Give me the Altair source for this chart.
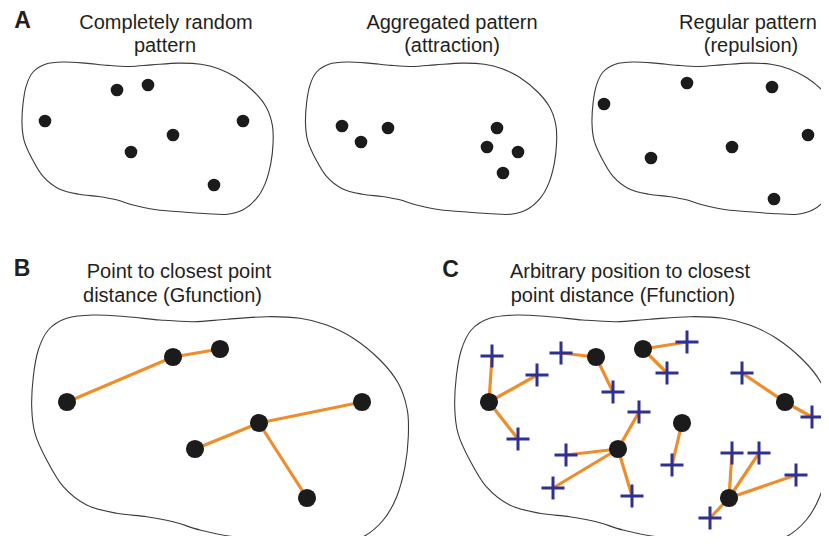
import altair as alt
import pandas as pd

# ---- outline of the irregular study region (traced on panel B, pixel space) ----
OUTLINE_X = [31.7, 33.3, 38.3, 48.3, 66.7, 93.3, 126.7, 160, 193.3, 226.7, 266.7, 300,
             326.7, 353.3, 380, 398.3, 407.3, 408.3, 405, 396.7, 383.3, 363.3, 340, 310,
             273.3, 233.3, 200, 173.3, 146.7, 116.7, 86.7, 63.3, 46.7, 35]
OUTLINE_Y = [406.7, 376.7, 350, 330, 318.3, 315, 316.7, 320, 321.7, 319.3, 316.7, 318.3,
             325, 338.3, 360, 383.3, 410, 436.7, 466.7, 496.7, 520, 536.7, 543.3, 542.7,
             540, 536.7, 530, 521.7, 516.7, 513.3, 505, 486.7, 460, 433.3]

# region placement: panel, left, top, scale
REGIONS = [("A1", 22, 62, 2 / 3), ("A2", 305.5, 62, 2 / 3), ("A3", 592, 62, 2 / 3),
           ("B", 31.7, 315, 1.0), ("C", 454.7, 315, 1.0)]

# ---- panel A points ----
A_RANDOM_X = [117, 148, 45, 243, 173, 131, 214]
A_RANDOM_Y = [90, 85, 121, 121, 135, 152, 185]
A_AGGR_X = [342, 361, 388, 497, 487, 518, 503]
A_AGGR_Y = [126, 142, 128, 128, 147, 152, 173]
A_REG_X = [604, 687, 772, 808, 732, 651, 774]
A_REG_Y = [104, 83, 87, 135, 147, 158, 199]

# ---- panel B points and nearest-neighbour links ----
B_X = [67, 173, 220, 362, 259, 195, 307]
B_Y = [402, 357, 349, 402, 423, 449, 498]
B_LINK_FROM = [0, 1, 4, 4, 4]
B_LINK_TO = [1, 2, 3, 5, 6]

# ---- panel C points, arbitrary positions and their closest point ----
C_X = [489, 596, 643, 785, 618, 682, 729]
C_Y = [402, 357, 349, 402, 449, 423, 498]
CROSS_X = [492, 537, 518, 561, 613, 687, 667, 742, 812, 639, 566, 553, 632, 672, 732, 759, 796, 710]
CROSS_Y = [356, 375, 439, 353, 392, 342, 373, 373, 417, 412, 455, 488, 496, 465, 453, 453, 475, 518]
CROSS_NEAREST = [0, 0, 0, 1, 1, 2, 2, 3, 3, 4, 4, 4, 4, 5, 6, 6, 6, 6]

# ---- texts ----
TITLES = ["Completely random", "pattern", "Aggregated pattern", "(attraction)",
          "Regular pattern", "(repulsion)", "Point to closest point", "distance (Gfunction)",
          "Arbitrary position to closest", "point distance (Ffunction)"]
TITLE_X = [166, 165, 452, 452, 748, 751, 179, 172.5, 630, 623]
TITLE_Y = [29, 52, 29, 52, 29, 52, 278, 302, 278, 302]
LETTERS = ["A", "B", "C"]
LETTER_X = [22.5, 22, 450.5]
LETTER_Y = [28, 276, 277]

# ---------------- build tables ----------------
ox, oy = OUTLINE_X[0], min(OUTLINE_Y)
rows = []
for name, left, top, s in REGIONS:
    for i, (x, y) in enumerate(zip(OUTLINE_X, OUTLINE_Y)):
        rows.append({"region": name, "i": i,
                     "x": (x - ox) * s + left, "y": (y - oy) * s + top})
outline_df = pd.DataFrame(rows)

small_dots = pd.DataFrame({"x": A_RANDOM_X + A_AGGR_X + A_REG_X,
                           "y": A_RANDOM_Y + A_AGGR_Y + A_REG_Y})
big_dots = pd.DataFrame({"x": B_X + C_X, "y": B_Y + C_Y})

seg = []
for a, b in zip(B_LINK_FROM, B_LINK_TO):
    seg.append({"x": B_X[a], "y": B_Y[a], "x2": B_X[b], "y2": B_Y[b]})
for cx, cy, k in zip(CROSS_X, CROSS_Y, CROSS_NEAREST):
    seg.append({"x": cx, "y": cy, "x2": C_X[k], "y2": C_Y[k]})
seg_df = pd.DataFrame(seg)

cross_df = pd.DataFrame({"x": CROSS_X, "y": CROSS_Y})
title_df = pd.DataFrame({"t": TITLES, "x": TITLE_X, "y": TITLE_Y})
letter_df = pd.DataFrame({"t": LETTERS, "x": LETTER_X, "y": LETTER_Y})

# ---------------- scales (pixel space of the page) ----------------
W, H = 813, 528
xs = alt.Scale(domain=[8, 8 + W], nice=False, zero=False)
ys = alt.Scale(domain=[8, 8 + H], nice=False, zero=False, reverse=True)
X = lambda f="x": alt.X(f"{f}:Q", scale=xs, axis=None)
Y = lambda f="y": alt.Y(f"{f}:Q", scale=ys, axis=None)

outline = alt.Chart(outline_df).mark_line(
    interpolate="cardinal-closed", color="#3a3a3a", strokeWidth=1.1, clip=True
).encode(x=X(), y=Y(), detail="region:N", order="i:Q")

links = alt.Chart(seg_df).mark_rule(
    color="#EE8D2B", strokeWidth=3.2, strokeCap="round"
).encode(x=X(), y=Y(), x2="x2:Q", y2="y2:Q")

crosses = alt.Chart(cross_df).mark_point(
    shape="M-1,0L1,0M0,-1L0,1", filled=False, color="#2E3192",
    strokeWidth=3, size=529, opacity=1
).encode(x=X(), y=Y())

dots_a = alt.Chart(small_dots).mark_circle(
    color="#1b1b1b", size=160, opacity=1
).encode(x=X(), y=Y())

dots_bc = alt.Chart(big_dots).mark_circle(
    color="#1b1b1b", size=330, opacity=1
).encode(x=X(), y=Y())

titles = alt.Chart(title_df).mark_text(
    font="Liberation Sans", fontSize=20, color="#231f20",
    align="center", baseline="alphabetic"
).encode(x=X(), y=Y(), text="t:N")

letters = alt.Chart(letter_df).mark_text(
    font="Liberation Sans", fontSize=23, fontWeight="bold", color="#231f20",
    align="center", baseline="alphabetic"
).encode(x=X(), y=Y(), text="t:N")

chart = alt.layer(outline, links, crosses, dots_a, dots_bc, titles, letters).properties(
    width=W, height=H, padding=0, autosize="none", background="white"
).configure_view(strokeWidth=0)

chart.save("out.html", embed_options={"renderer": "svg", "actions": False})
